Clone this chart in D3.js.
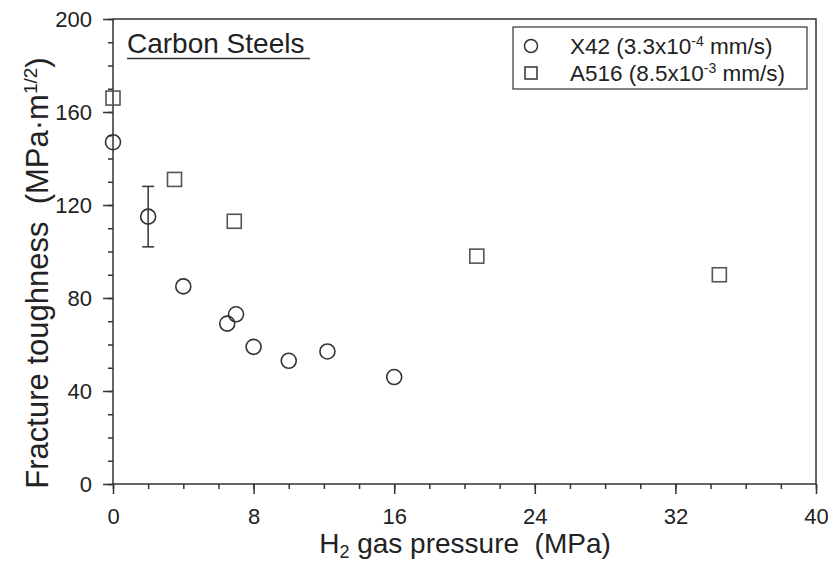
<html>
<head>
<title>Carbon Steels</title>
<script src="https://cdn.jsdelivr.net/npm/d3@7"></script>
<style>
  * { margin: 0; padding: 0; }
  body { background: #fff; }
  text { font-family: "Liberation Sans", Arial, sans-serif; fill: #222; white-space: pre; }
</style>
</head>
<body>
<div id="chart"></div>
<script>
// X42 (circles)
var x42Pressure = [0, 2, 4, 6.5, 7, 8, 10, 12.2, 16];
var x42Toughness = [147, 115, 85, 69, 73, 59, 53, 57, 46];
var x42ErrLow = [null, 102, null, null, null, null, null, null, null];
var x42ErrHigh = [null, 128, null, null, null, null, null, null, null];
// A516 (squares)
var a516Pressure = [0, 3.5, 6.9, 20.7, 34.5];
var a516Toughness = [166, 131, 113, 98, 90];

var xTicks = [0, 8, 16, 24, 32, 40];
var yTicks = [0, 40, 80, 120, 160, 200];

var W = 828, H = 564;
var m = { left: 113, right: 12, top: 19, bottom: 80 };
var svg = d3.select('#chart').append('svg')
    .attr('width', W).attr('height', H);

var x = d3.scaleLinear().domain([0, 40]).range([m.left, W - m.right]);
var y = d3.scaleLinear().domain([0, 200]).range([H - m.bottom, m.top]);
var ink = '#333';

// frame
svg.append('rect')
    .attr('x', x(0)).attr('y', y(200))
    .attr('width', x(40) - x(0)).attr('height', y(0) - y(200))
    .attr('fill', 'none').attr('stroke', ink).attr('stroke-width', 1.5);

// axes
var xMinor = svg.append('g').attr('transform', 'translate(0,' + y(0) + ')')
    .call(d3.axisBottom(x).tickValues(d3.range(0, 41, 2)).tickSize(5).tickFormat(''));
var xMajor = svg.append('g').attr('transform', 'translate(0,' + y(0) + ')')
    .call(d3.axisBottom(x).tickValues(xTicks).tickSize(10).tickPadding(14).tickFormat(d3.format('d')));
var yMinor = svg.append('g').attr('transform', 'translate(' + x(0) + ',0)')
    .call(d3.axisLeft(y).tickValues(d3.range(0, 201, 10)).tickSize(5).tickFormat(''));
var yMajor = svg.append('g').attr('transform', 'translate(' + x(0) + ',0)')
    .call(d3.axisLeft(y).tickValues(yTicks).tickSize(10).tickPadding(11).tickFormat(d3.format('d')));
[xMinor, xMajor, yMinor, yMajor].forEach(function(g) {
  g.attr('font-size', null);
  g.select('.domain').remove();
  g.selectAll('line').attr('stroke', ink).attr('stroke-width', 1.5);
  g.selectAll('text').style('font-size', '22px').attr('fill', '#222');
});

// axis titles
var xt = svg.append('text').attr('x', 465).attr('y', 553)
    .attr('text-anchor', 'middle').style('font-size', '28px');
xt.append('tspan').text('H');
xt.append('tspan').attr('dy', 5).style('font-size', '18px').text('2');
xt.append('tspan').attr('dy', -5).text(' gas pressure  (MPa)');

var yt = svg.append('text').attr('transform', 'translate(48,273) rotate(-90)')
    .attr('text-anchor', 'middle').style('font-size', '31px');
yt.append('tspan').text('Fracture toughness  (MPa\u00b7m');
yt.append('tspan').attr('dy', -11).style('font-size', '19px').text('1/2');
yt.append('tspan').attr('dy', 11).text(')');

// error bars
var errIdx = d3.range(x42Pressure.length).filter(function(i) { return x42ErrLow[i] != null; });
var eb = svg.append('g').attr('stroke', ink).attr('stroke-width', 1.5);
errIdx.forEach(function(i) {
  var cx = x(x42Pressure[i]);
  eb.append('line').attr('x1', cx).attr('x2', cx)
      .attr('y1', y(x42ErrLow[i])).attr('y2', y(x42ErrHigh[i]));
  [x42ErrLow[i], x42ErrHigh[i]].forEach(function(v) {
    eb.append('line').attr('x1', cx - 6).attr('x2', cx + 6)
        .attr('y1', y(v)).attr('y2', y(v));
  });
});

// X42 circles
svg.append('g').selectAll('circle').data(x42Pressure)
  .enter().append('circle')
    .attr('cx', function(d) { return x(d); })
    .attr('cy', function(d, i) { return y(x42Toughness[i]); })
    .attr('r', 7.5)
    .attr('fill', 'none').attr('stroke', ink).attr('stroke-width', 1.6);

// A516 squares
svg.append('g').selectAll('rect').data(a516Pressure)
  .enter().append('rect')
    .attr('x', function(d) { return x(d) - 7; })
    .attr('y', function(d, i) { return y(a516Toughness[i]) - 7; })
    .attr('width', 14).attr('height', 14)
    .attr('fill', 'none').attr('stroke', '#555').attr('stroke-width', 1.6);

// title
svg.append('text').attr('x', 127).attr('y', 53).style('font-size', '28px').text('Carbon Steels');
svg.append('line').attr('x1', 127).attr('x2', 310).attr('y1', 58.5).attr('y2', 58.5)
    .attr('stroke', ink).attr('stroke-width', 1.5);

// legend
var lg = svg.append('g');
lg.append('rect').attr('x', 513).attr('y', 27).attr('width', 294).attr('height', 62)
    .attr('fill', '#fff').attr('stroke', ink).attr('stroke-width', 1.2);
lg.append('circle').attr('cx', 531).attr('cy', 46).attr('r', 6.5)
    .attr('fill', 'none').attr('stroke', ink).attr('stroke-width', 1.5);
lg.append('rect').attr('x', 525).attr('y', 67).attr('width', 12).attr('height', 12)
    .attr('fill', 'none').attr('stroke', ink).attr('stroke-width', 1.5);
var l1 = lg.append('text').attr('x', 570).attr('y', 54).style('font-size', '22.5px');
l1.append('tspan').text('X42 (3.3x10');
l1.append('tspan').attr('dy', -8).style('font-size', '14px').text('-4');
l1.append('tspan').attr('dy', 8).text(' mm/s)');
var l2 = lg.append('text').attr('x', 570).attr('y', 81).style('font-size', '22.5px');
l2.append('tspan').text('A516 (8.5x10');
l2.append('tspan').attr('dy', -8).style('font-size', '14px').text('-3');
l2.append('tspan').attr('dy', 8).text(' mm/s)');
</script>
</body>
</html>
